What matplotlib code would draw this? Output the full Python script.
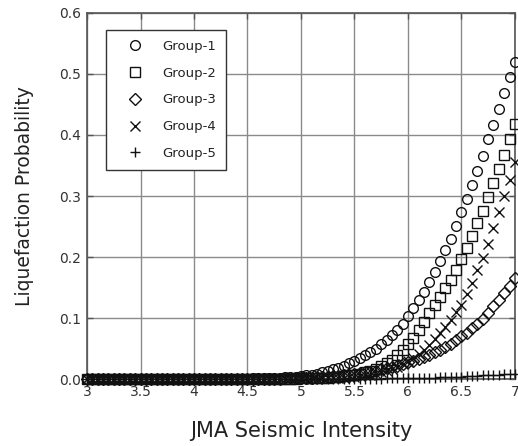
import numpy as np
import matplotlib
matplotlib.use("Agg")
import matplotlib.pyplot as plt

# JMA intensity grid, 3.00 .. 7.00 step 0.05 (81 points)
intensity = np.round(np.linspace(3.0, 7.0, 81), 2)

# values
group1 = [0.0] * 29 + [
    0.0005, 0.0005, 0.001, 0.001, 0.0015, 0.002, 0.002, 0.0025, 0.003, 0.0035,
    0.004, 0.005, 0.006, 0.007, 0.009, 0.011, 0.013, 0.016, 0.019, 0.022,
    0.026, 0.030, 0.034, 0.039, 0.045, 0.050, 0.057, 0.064, 0.072, 0.081,
    0.091, 0.103, 0.116, 0.130, 0.143, 0.159, 0.176, 0.194, 0.211, 0.230,
    0.251, 0.273, 0.295, 0.318, 0.341, 0.366, 0.393, 0.416, 0.442, 0.468,
    0.495, 0.520]
group2 = [0.0] * 37 + [
    0.0005, 0.0005, 0.0005, 0.001, 0.001, 0.0015, 0.0015, 0.002, 0.0025, 0.003,
    0.004, 0.005, 0.006, 0.007, 0.009, 0.011, 0.014, 0.017, 0.021, 0.026,
    0.032, 0.039, 0.047, 0.057, 0.068, 0.080, 0.094, 0.108, 0.121, 0.134,
    0.149, 0.163, 0.179, 0.197, 0.215, 0.235, 0.255, 0.276, 0.299, 0.321,
    0.345, 0.368, 0.393, 0.418]
group3 = [0.0] * 34 + [
    0.0005, 0.0005, 0.0005, 0.001, 0.001, 0.0015, 0.0015, 0.002, 0.0025, 0.003,
    0.0035, 0.004, 0.0045, 0.005, 0.006, 0.007, 0.008, 0.010, 0.011, 0.012,
    0.014, 0.016, 0.018, 0.020, 0.022, 0.025, 0.028, 0.030, 0.033, 0.036,
    0.040, 0.044, 0.048, 0.053, 0.058, 0.064, 0.070, 0.076, 0.083, 0.091,
    0.099, 0.108, 0.119, 0.130, 0.141, 0.153, 0.166]
group4 = [0.0] * 41 + [
    0.0005, 0.0005, 0.0005, 0.001, 0.001, 0.0015, 0.0015, 0.002, 0.003, 0.0035,
    0.0045, 0.006, 0.007, 0.009, 0.011, 0.013, 0.016, 0.020, 0.024, 0.029,
    0.035, 0.041, 0.048, 0.056, 0.065, 0.075, 0.085, 0.097, 0.110, 0.122,
    0.139, 0.158, 0.178, 0.199, 0.222, 0.247, 0.273, 0.300, 0.327, 0.356]
group5 = [0.0] * 52 + [
    0.0005, 0.0005, 0.0005, 0.0005, 0.001, 0.001, 0.001, 0.001, 0.0015, 0.0015,
    0.002, 0.002, 0.0025, 0.0025, 0.003, 0.003, 0.0035, 0.0035, 0.004, 0.0045,
    0.005, 0.0055, 0.006, 0.0065, 0.007, 0.0075, 0.008, 0.0085, 0.009]

labels = ["Group-1", "Group-2", "Group-3", "Group-4", "Group-5"]
markers = ["o", "s", "D", "x", "+"]
sizes = [7, 7, 6, 6.5, 7]

xticks = [3, 3.5, 4, 4.5, 5, 5.5, 6, 6.5, 7]
xtick_labels = ["3", "3.5", "4", "4.5", "5", "5.5", "6", "6.5", "7"]
yticks = [0.0, 0.1, 0.2, 0.3, 0.4, 0.5, 0.6]
ytick_labels = ["0.0", "0.1", "0.2", "0.3", "0.4", "0.5", "0.6"]

plt.rcParams["font.family"] = "DejaVu Sans"

fig = plt.figure(figsize=(5.18, 4.46), dpi=100)
ax = fig.add_axes([0.168, 0.150, 0.826, 0.821])

for vals, lab, mk, ms in zip([group1, group2, group3, group4, group5],
                             labels, markers, sizes):
    ax.plot(intensity, vals, linestyle="none", marker=mk, markersize=ms,
            markerfacecolor="none", markeredgecolor="#111111",
            markeredgewidth=1.0, label=lab, clip_on=False, zorder=3)

ax.set_xlim(3, 7)
ax.set_ylim(0, 0.6)
ax.set_xticks(xticks)
ax.set_xticklabels(xtick_labels)
ax.set_yticks(yticks)
ax.set_yticklabels(ytick_labels)

ax.grid(True, color="#8a8a8a", linewidth=1.0)
ax.set_axisbelow(True)
for sp in ax.spines.values():
    sp.set_color("#555555")
    sp.set_linewidth(1.2)
ax.tick_params(direction="in", length=4, width=1, colors="#555555",
               labelcolor="#333333", labelsize=10, top=True, right=True, pad=4)

ax.set_xlabel("JMA Seismic Intensity", fontsize=15, color="#222222", labelpad=16)
ax.set_ylabel("Liquefaction Probability", fontsize=13.5, color="#222222", labelpad=18)

leg = ax.legend(loc="upper left", bbox_to_anchor=(0.044, 0.954), fancybox=False,
                edgecolor="#333333", framealpha=1, fontsize=9.5, borderpad=0.75,
                labelspacing=1.05, handlelength=2.9, handletextpad=0.6,
                borderaxespad=0)
leg.get_frame().set_linewidth(1.0)
for t in leg.get_texts():
    t.set_color("#222222")

plt.savefig("out.png", dpi=100)
